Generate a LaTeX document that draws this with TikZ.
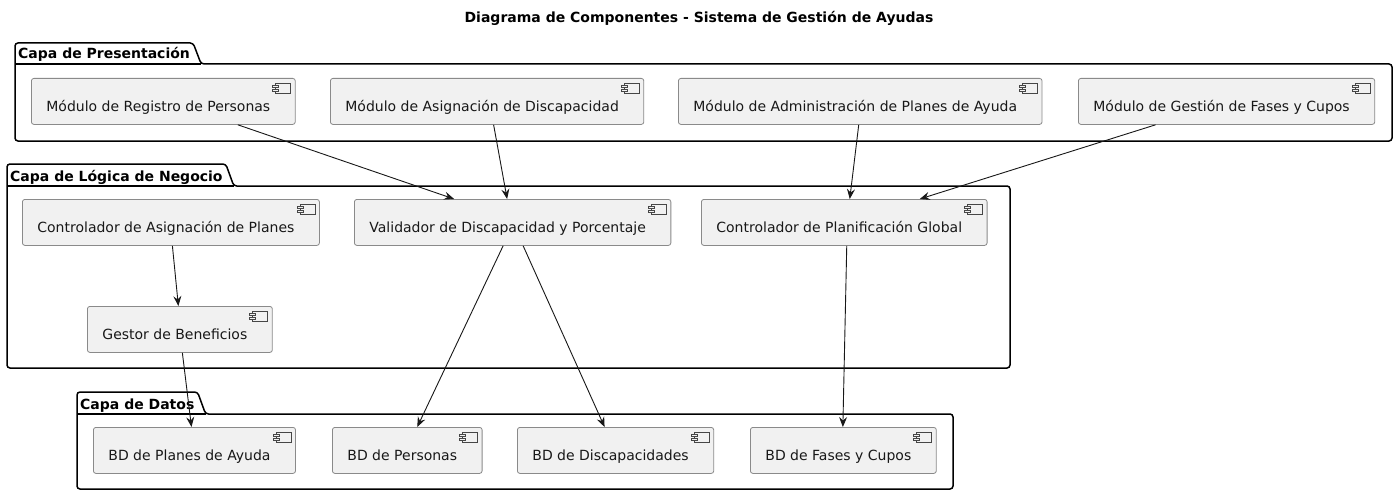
\documentclass[tikz,border=0pt]{standalone}
\usepackage{fontspec}
\setmainfont{DejaVu Sans}
\usetikzlibrary{arrows.meta,calc}
\definecolor{compfill}{HTML}{F1F1F1}
\definecolor{compline}{HTML}{8A8A8A}
\definecolor{ink}{HTML}{181818}
\newcommand\cicon[1]{%
  \draw[icon] ([shift={(-20,5)}]#1.north east) rectangle ++(15,10);
  \draw[icon] ([shift={(-23,7.5)}]#1.north east) rectangle ++(6,2);
  \draw[icon] ([shift={(-23,11.5)}]#1.north east) rectangle ++(6,2);
}
\tikzset{
  comp/.style={draw=compline, fill=compfill, line width=0.8pt, rounded corners=2.5pt,
    anchor=north west, minimum height=46pt, inner xsep=15pt, inner ysep=0pt,
    text height=20pt, text depth=0pt, text=ink, font=\fontsize{14}{16}\selectfont},
  icon/.style={draw=ink!80, fill=compfill, line width=0.5pt},
  plabel/.style={anchor=base west, inner xsep=3pt, inner ysep=0pt, text=black,
    font=\bfseries\fontsize{14}{16}\selectfont},
  pkg/.style={draw=black, line width=1.5pt, rounded corners=3pt},
  pkgsharp/.style={draw=black, line width=1.5pt},
  arr/.style={draw=ink, line width=0.9pt, -{Stealth[length=10pt,width=8pt,inset=3.5pt]}},
}
\begin{document}
\begin{tikzpicture}[x=1pt,y=-1pt]
\useasboundingbox (0,0) rectangle (1398,495);
\fill[white] (0,0) rectangle (1398,495);

\node[anchor=base, inner sep=0pt, font=\bfseries\fontsize{14}{16}\selectfont] (title) at (699,23)
  {Diagrama de Componentes - Sistema de Gestión de Ayudas};

% Packages
\node[plabel] (pp) at (15,59) {Capa de Presentación};
\draw[pkg] (15,141) -- (15,43) -- (pp.east |- 0,43) -- ($(pp.east |- 0,64)+(8,0)$) -- (1392,64) -- (1392,141) -- cycle;
\draw[pkgsharp] (15,64) -- ($(pp.east |- 0,64)+(8,0)$);

\node[plabel] (pl) at (7,181) {Capa de Lógica de Negocio};
\draw[pkg] (7,368) -- (7,164) -- (pl.east |- 0,164) -- ($(pl.east |- 0,186)+(8,0)$) -- (1010,186) -- (1010,368) -- cycle;
\draw[pkgsharp] (7,186) -- ($(pl.east |- 0,186)+(8,0)$);

\node[plabel] (pd) at (77,409) {Capa de Datos};
\draw[pkg] (77,489) -- (77,392) -- (pd.east |- 0,392) -- ($(pd.east |- 0,414)+(8,0)$) -- (953,414) -- (953,489) -- cycle;
\draw[pkgsharp] (77,414) -- ($(pd.east |- 0,414)+(8,0)$);

% Components: presentation
\node[comp] (reg) at (31,78) {Módulo de Registro de Personas\hspace*{10pt}};
\node[comp] (asd) at (330,78) {Módulo de Asignación de Discapacidad\hspace*{10pt}};
\node[comp] (adm) at (678,78) {Módulo de Administración de Planes de Ayuda\hspace*{10pt}};
\node[comp] (gfc) at (1078,78) {Módulo de Gestión de Fases y Cupos\hspace*{10pt}};
% logic
\node[comp] (cap) at (22,199) {Controlador de Asignación de Planes\hspace*{10pt}};
\node[comp] (val) at (354,199) {Validador de Discapacidad y Porcentaje\hspace*{10pt}};
\node[comp] (cpg) at (701,199) {Controlador de Planificación Global\hspace*{10pt}};
\node[comp] (gb) at (87,306) {Gestor de Beneficios\hspace*{10pt}};
% data
\node[comp] (bdp) at (93,427) {BD de Planes de Ayuda\hspace*{10pt}};
\node[comp] (bdper) at (332,427) {BD de Personas\hspace*{10pt}};
\node[comp] (bdd) at (517,427) {BD de Discapacidades\hspace*{10pt}};
\node[comp] (bdf) at (750,427) {BD de Fases y Cupos\hspace*{10pt}};

\foreach \n in {reg,asd,adm,gfc,cap,val,cpg,gb,bdp,bdper,bdd,bdf}{\cicon{\n}}

% Connectors
\draw[arr] ([xshift=74.5pt]reg.south) -- ([xshift=-58.5pt]val.north);
\draw[arr] ([xshift=6.5pt]asd.south) -- ([xshift=-5.5pt]val.north);
\draw[arr] ([xshift=-1.5pt]adm.south) -- ([xshift=5.5pt]cpg.north);
\draw[arr] ([xshift=-71pt]gfc.south) -- ([xshift=75.5pt]cpg.north);
\draw[arr] ([xshift=1.5pt]cap.south) -- ([xshift=-1.5pt]gb.north);
\draw[arr] ([xshift=2.5pt]gb.south) -- ([xshift=-3pt]bdp.north);
\draw[arr] ([xshift=-9.5pt]val.south) -- ([xshift=10pt]bdper.north);
\draw[arr] ([xshift=10.5pt]val.south) -- ([xshift=-11pt]bdd.north);
\draw[arr] ([xshift=2.5pt]cpg.south) -- ([xshift=-0.5pt]bdf.north);
\end{tikzpicture}
\end{document}
